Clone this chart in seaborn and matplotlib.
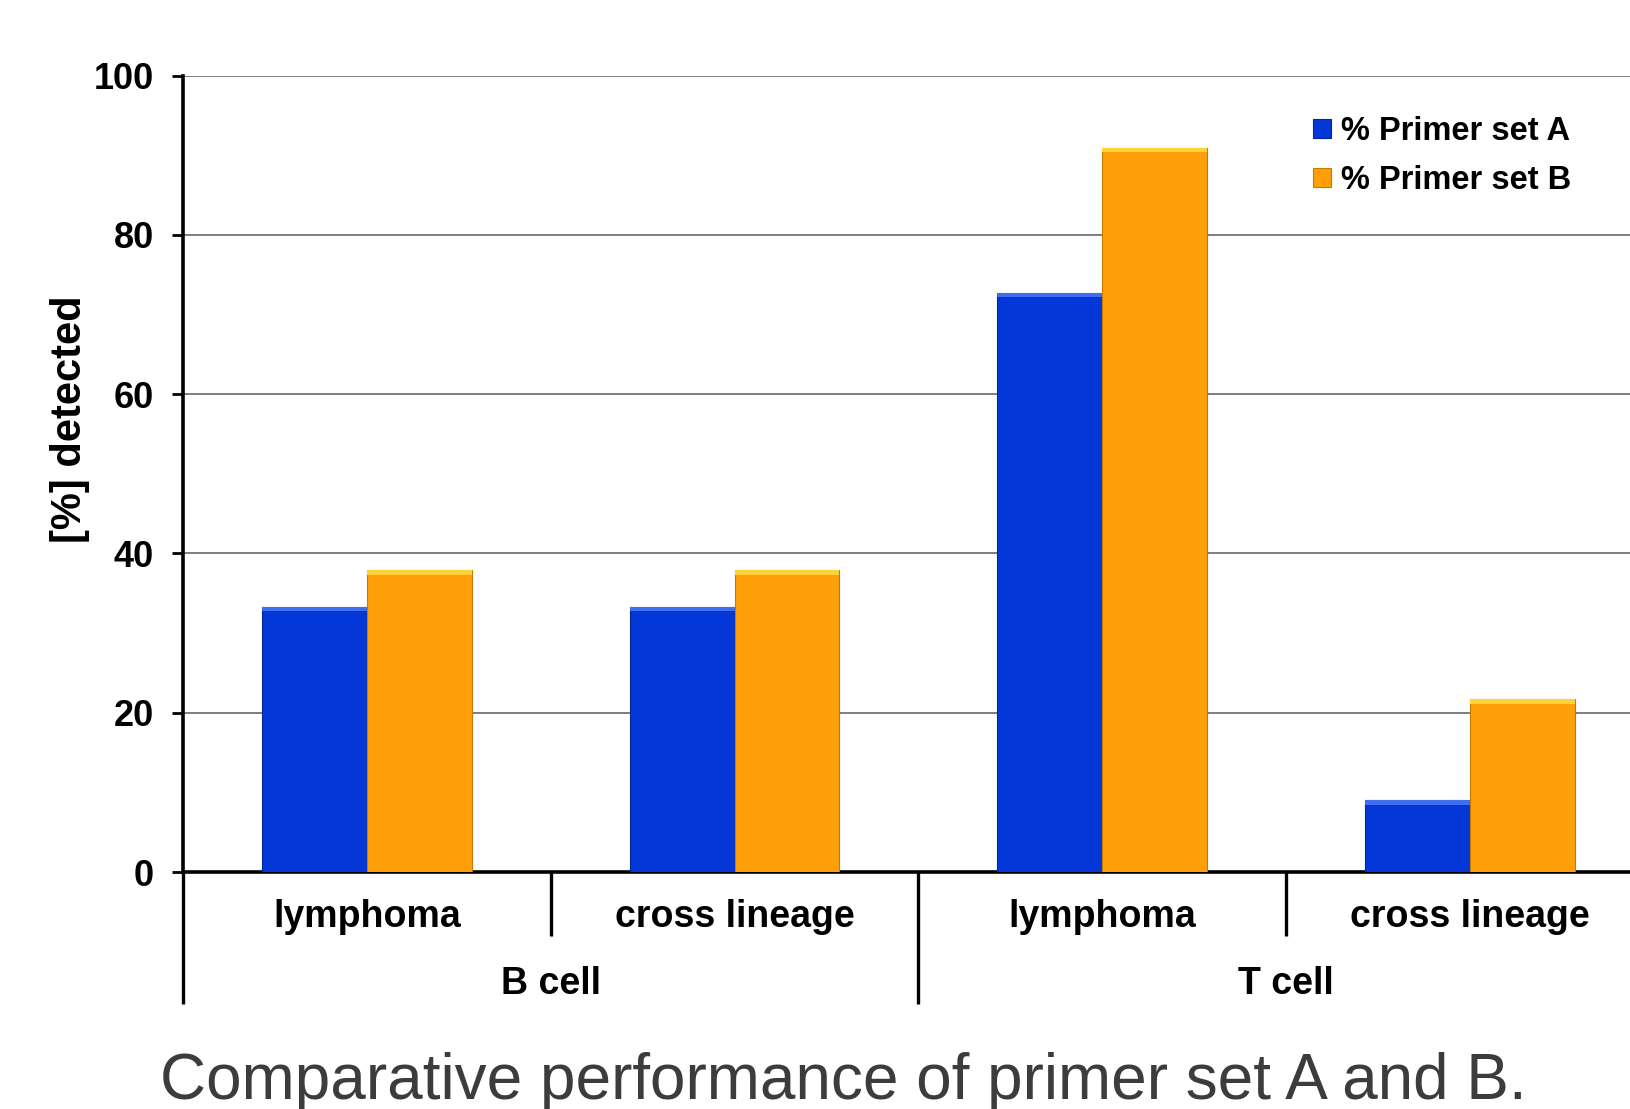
import matplotlib
matplotlib.use("Agg")
import matplotlib.pyplot as plt
from matplotlib.patches import Rectangle
import seaborn as sns
import pandas as pd

# Detection rates per tumour type and lineage
lineages = ["B cell", "B cell", "T cell", "T cell"]
subtypes = ["lymphoma", "cross lineage", "lymphoma", "cross lineage"]
primer_a = [33.3, 33.3, 72.7, 9.0]
primer_b = [37.9, 37.9, 90.9, 21.7]
series_names = ["% Primer set A", "% Primer set B"]
colors = ["#0437d8", "#ffa00a"]
edge_colors = ["#0225a0", "#c77a00"]
top_colors = ["#3f6ef0", "#ffd23a"]
y_ticks = [0, 20, 40, 60, 80, 100]

keys = [f"{l} {s}" for l, s in zip(lineages, subtypes)]
df = pd.DataFrame({
    "group": keys * 2,
    "series": [series_names[0]] * 4 + [series_names[1]] * 4,
    "value": primer_a + primer_b,
})

sns.set_theme(style="white")
plt.rcParams["font.family"] = ["Liberation Sans", "DejaVu Sans"]

fig = plt.figure(figsize=(16.31, 11.09), dpi=100)
ax = fig.add_axes([0.1122, 0.2137, 0.9018, 0.7182])

sns.barplot(data=df, x="group", y="value", hue="series", order=keys,
            hue_order=series_names, palette=colors, width=0.57,
            saturation=1, ax=ax, zorder=3, linewidth=0, legend=True)

# bevelled look on each bar: dark side edges and a light top strip
for patch in ax.patches:
    fc = patch.get_facecolor()
    idx = 0 if abs(fc[0] - matplotlib.colors.to_rgba(colors[0])[0]) < 0.1 else 1
    patch.set_edgecolor(edge_colors[idx])
    patch.set_linewidth(0.8)
    x0, w, h = patch.get_x(), patch.get_width(), patch.get_height()
    if h > 0:
        ax.add_patch(Rectangle((x0, h - 0.55), w, 0.55, facecolor=top_colors[idx],
                               edgecolor="none", zorder=4))

ax.set_xlim(-0.5, 3.5)
ax.set_ylim(0, 100)
ax.set_yticks(y_ticks)
ax.set_yticklabels([str(t) for t in y_ticks], fontsize=26, fontweight="bold")
ax.tick_params(axis="y", direction="out", length=8, width=2, pad=13, left=True, colors="black")
ax.set_xticks([])
ax.set_xlabel("")
ax.set_ylabel("[%] detected", fontsize=30, fontweight="bold", color="black")
ax.yaxis.set_label_coords(-0.063, 0.568)

ax.grid(axis="y", color="#5a5a5a", linewidth=1.1, zorder=0)
ax.grid(axis="x", visible=False)
ax.set_axisbelow(True)
for side in ["top", "right"]:
    ax.spines[side].set_visible(False)
ax.spines["left"].set_linewidth(2.6)
ax.spines["left"].set_color("black")
ax.spines["bottom"].set_linewidth(2.6)
ax.spines["bottom"].set_color("black")

# two-level category axis below the bars
line_kw = dict(color="black", linewidth=2.4, clip_on=False, solid_capstyle="butt")
ax.plot([-0.5, -0.5], [0, -16.6], **line_kw)
ax.plot([1.5, 1.5], [0, -16.6], **line_kw)
for xd in [0.5, 2.5]:
    ax.plot([xd, xd], [0, -8.0], **line_kw)
for i, s in enumerate(subtypes):
    ax.text(i, -5.7, s, ha="center", va="center", fontsize=27, fontweight="bold",
            color="black", clip_on=False)
for j, lin in enumerate(["B cell", "T cell"]):
    ax.text(2 * j + 0.5, -14.0, lin, ha="center", va="center", fontsize=27,
            fontweight="bold", color="black", clip_on=False)

# legend
handles, labels = ax.get_legend_handles_labels()
leg = ax.legend(handles, labels, loc="upper left", bbox_to_anchor=(1313 / 1631, 1 - 116 / 1109),
                bbox_transform=fig.transFigure, frameon=False, fontsize=23.5,
                handlelength=0.55, handleheight=0.55, handletextpad=0.3,
                labelspacing=0.55, borderpad=0, borderaxespad=0)
for t in leg.get_texts():
    t.set_fontweight("bold")
    t.set_color("black")
for h, ec in zip(leg.legend_handles, edge_colors):
    h.set_edgecolor(ec)
    h.set_linewidth(0.8)

fig.text(843 / 1631, 0.009, "Comparative performance of primer set A and B.",
         ha="center", va="baseline", fontsize=46, color="#3c3c3c")

fig.savefig("out.png", dpi=100, facecolor="white")
